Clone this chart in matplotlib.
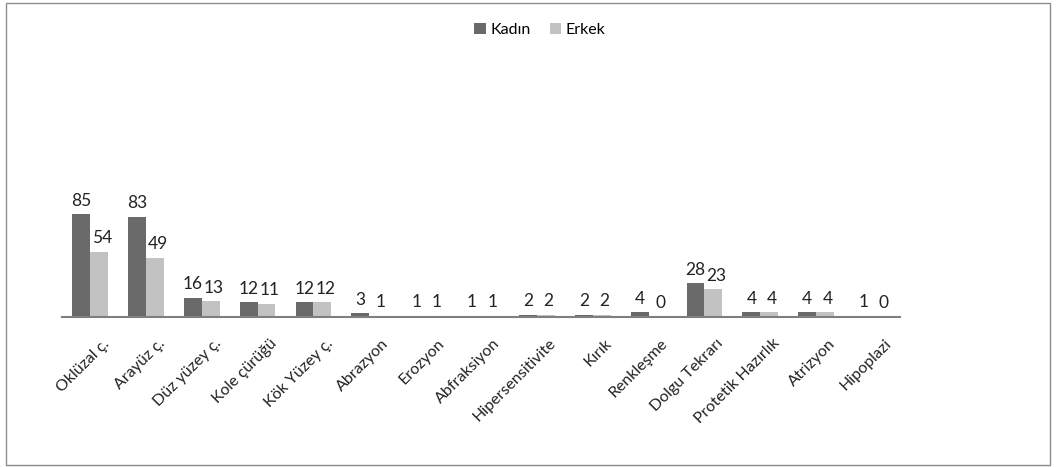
import numpy as np
import matplotlib.pyplot as plt
import matplotlib.transforms as mtransforms
from matplotlib.patches import Rectangle

plt.rcParams['font.family'] = ['Lato', 'DejaVu Sans']

categories = ["Oklüzal ç.", "Arayüz ç.", "Düz yüzey ç.", "Kole çürüğü", "Kök Yüzey ç.",
              "Abrazyon", "Erozyon", "Abfraksiyon", "Hipersensitivite", "Kırık",
              "Renkleşme", "Dolgu Tekrarı", "Protetik Hazırlık", "Atrizyon", "Hipoplazi"]
kadin = [85, 83, 16, 12, 12, 3, 1, 1, 2, 2, 4, 28, 4, 4, 1]
erkek = [54, 49, 13, 11, 12, 1, 1, 1, 2, 2, 0, 23, 4, 4, 0]

dark = "#6a6a6a"
light = "#c2c2c2"

fig = plt.figure(figsize=(10.56, 4.67), dpi=100)
# outer frame around the whole chart
fig.patches.append(Rectangle((6/1056, 2/467), 1044/1056, 462/467, transform=fig.transFigure,
                             fill=False, edgecolor="#8c8c8c", linewidth=1.0))

ax = fig.add_axes([62/1056, 150/467, 838/1056, 121/467])
x = np.arange(len(categories))
w = 0.32
ax.bar(x - w/2, kadin, w, color=dark, label="Kadın")
ax.bar(x + w/2, erkek, w, color=light, label="Erkek")

for i in range(len(categories)):
    ax.annotate(str(kadin[i]), (x[i] - w/2, kadin[i]), xytext=(0, 4), textcoords="offset points",
                ha="center", va="bottom", fontsize=12.5, color="#222222", annotation_clip=False)
    ax.annotate(str(erkek[i]), (x[i] + w/2 + 0.05, erkek[i]), xytext=(0, 4), textcoords="offset points",
                ha="center", va="bottom", fontsize=12.5, color="#222222", annotation_clip=False)

ax.set_xlim(-0.5, len(categories) - 0.5)
ax.set_ylim(0, 100)
for s in ["top", "right", "left"]:
    ax.spines[s].set_visible(False)
ax.spines["bottom"].set_color("#7f7f7f")
ax.spines["bottom"].set_linewidth(1.5)
ax.set_yticks([])
ax.set_xticks(x)
ax.set_xticklabels(categories, rotation=45, ha="right", va="top", rotation_mode="anchor",
                   fontsize=11.5, color="#222222")
ax.tick_params(axis="x", length=0, pad=14)
# nudge the slanted labels to the right
shift = mtransforms.ScaledTranslation(12/100, 0, fig.dpi_scale_trans)
for lab in ax.get_xticklabels():
    lab.set_transform(lab.get_transform() + shift)
ax.patch.set_visible(False)

fig.legend(loc="center", bbox_to_anchor=(540/1056, 1 - 30/467), ncol=2, frameon=False,
           fontsize=11.5, handlelength=0.7, handleheight=0.7, handletextpad=0.3, columnspacing=1.2)

fig.savefig("out.png", dpi=100)
